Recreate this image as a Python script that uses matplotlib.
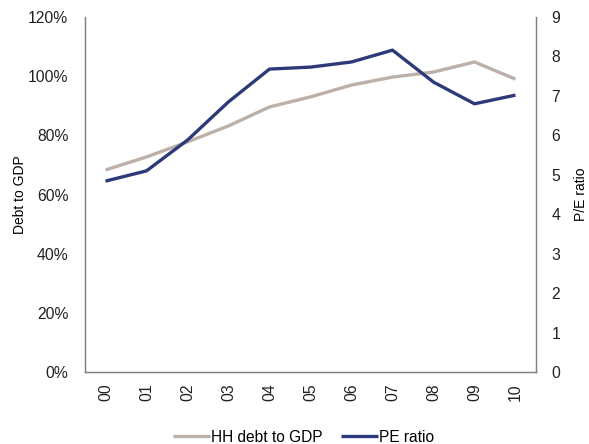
import matplotlib
matplotlib.use("Agg")
import matplotlib.pyplot as plt
from matplotlib.ticker import FuncFormatter

plt.rcParams['font.family'] = ['Liberation Sans', 'DejaVu Sans']

# Data
years = ['00', '01', '02', '03', '04', '05', '06', '07', '08', '09', '10']
hh_debt_pct = [68.3, 72.7, 77.8, 83.2, 89.6, 93.0, 97.0, 99.7, 101.4, 104.8, 99.0]
pe_ratio = [4.84, 5.10, 5.88, 6.85, 7.68, 7.73, 7.86, 8.16, 7.35, 6.80, 7.02]

hh_color = '#BDB0A8'
pe_color = '#2E3A78'
spine_color = '#808080'

fig = plt.figure(figsize=(5.89, 4.44), dpi=100)
ax1 = fig.add_axes([0.1443, 0.162, 0.7657, 0.7997])
ax2 = ax1.twinx()

x = list(range(len(years)))
l1, = ax1.plot(x, hh_debt_pct, color=hh_color, linewidth=2.4, label='HH debt to GDP',
               solid_capstyle='butt')
l2, = ax2.plot(x, pe_ratio, color=pe_color, linewidth=2.4, label='PE ratio',
               solid_capstyle='butt')

ax1.set_xlim(-0.5, len(years) - 0.5)
ax1.set_ylim(0, 120)
ax2.set_ylim(0, 9)
ax1.set_yticks(range(0, 121, 20))
ax1.yaxis.set_major_formatter(FuncFormatter(lambda v, p: f'{int(v)}%'))
ax2.set_yticks(range(0, 10))
ax1.set_xticks(x)
ax1.set_xticklabels(years, rotation=90)

for ax in (ax1, ax2):
    ax.spines['top'].set_visible(False)
    for s in ('left', 'right', 'bottom'):
        ax.spines[s].set_color(spine_color)
        ax.spines[s].set_linewidth(0.9)
    ax.tick_params(length=0, labelsize=11.3, colors='#222222')
ax1.tick_params(axis='y', pad=12)
ax2.tick_params(axis='y', pad=11)
ax1.tick_params(axis='x', pad=8)

ax1.set_ylabel('Debt to GDP', fontsize=10, labelpad=1)
ax2.set_ylabel('P/E ratio', fontsize=10, labelpad=10)

fig.legend(handles=[l1, l2], loc='lower center', bbox_to_anchor=(0.515, -0.033),
           ncol=2, frameon=False, fontsize=11.2, handlelength=2.4,
           handletextpad=0.05, columnspacing=1.2)

fig.savefig('out.png', dpi=100)
